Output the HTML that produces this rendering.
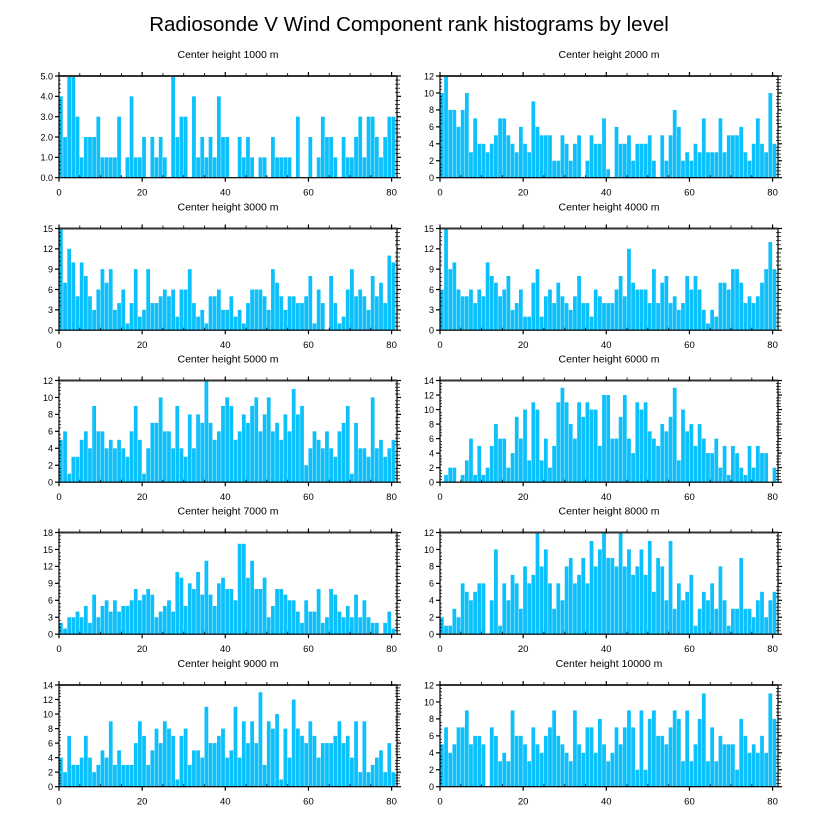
<!DOCTYPE html>
<html><head><meta charset="utf-8"><style>
html,body{margin:0;padding:0;background:#fff;}
svg{display:block;font-family:"Liberation Sans",Arial,sans-serif;}
</style></head><body>
<svg id="chart" width="818" height="824" viewBox="0 0 818 824">
<text x="409" y="31" text-anchor="middle" font-size="20.5" fill="#000">Radiosonde V Wind Component rank histograms by level</text>
</svg>
<script>
const levels = [1000,2000,3000,4000,5000,6000,7000,8000,9000,10000];
const yMaxes = [5,12,15,15,12,14,18,12,14,12];
const yStepVals = [1,2,3,3,2,2,3,2,2,2];
const xTickVals = [0,20,40,60,80];
const c1000 = [4,2,5,5,3,1,2,2,2,3,1,1,1,1,3,0,1,4,1,1,2,0,2,1,2,1,0,5,2,3,3,0,4,1,2,1,2,1,4,2,2,0,0,2,1,2,1,0,1,1,0,2,1,1,1,1,0,3,0,0,2,0,1,3,2,2,1,0,2,1,1,2,3,1,3,3,2,1,2,3,3];
const c2000 = [10,12,8,8,6,8,10,3,7,4,4,3,4,5,7,7,5,4,3,6,4,3,9,6,5,5,5,2,2,5,4,2,4,5,0,2,5,4,4,7,1,0,6,4,4,5,2,4,4,4,5,2,0,5,2,5,8,6,2,3,2,4,3,7,3,3,3,7,3,5,5,5,6,3,2,4,7,4,3,10,4];
const c3000 = [15,7,12,10,5,10,8,5,3,6,9,7,9,3,4,6,1,4,9,2,3,9,4,4,5,6,5,6,2,6,6,9,4,2,3,1,5,5,6,3,3,5,2,3,1,4,6,6,6,5,3,9,7,5,3,5,5,4,4,5,8,1,6,4,0,8,4,1,2,6,9,5,6,5,3,8,5,7,4,11,10];
const c4000 = [6,15,9,10,6,5,5,6,4,6,5,10,8,7,5,6,8,3,4,6,2,2,7,9,2,5,6,4,7,5,4,3,5,8,4,4,2,6,5,4,4,4,6,8,5,12,7,6,6,6,4,9,4,7,8,4,5,3,4,8,6,8,6,3,1,3,2,7,7,6,9,9,7,4,5,4,5,7,9,13,9];
const c5000 = [5,6,1,3,3,5,6,4,9,6,6,4,5,4,5,4,3,6,9,5,1,4,7,7,10,6,6,4,9,4,3,8,4,8,7,12,7,5,6,9,10,9,5,6,8,7,9,10,6,8,10,6,7,5,8,6,11,8,9,2,4,6,5,4,6,4,3,6,7,9,1,7,4,4,3,10,4,5,3,4,5];
const c6000 = [0,1,2,2,0,1,3,6,1,5,1,2,5,8,6,6,2,4,9,6,10,3,11,10,3,6,2,5,11,13,11,8,6,11,9,11,10,10,5,12,12,6,6,9,12,6,4,11,10,11,7,6,5,8,7,9,13,3,10,7,8,5,8,6,4,4,6,2,5,1,5,4,2,1,5,2,5,4,4,0,2];
const c7000 = [2,1,3,3,4,3,5,2,7,3,5,6,4,6,4,5,5,6,8,6,7,8,7,3,4,5,6,4,11,10,5,9,8,11,7,13,7,5,9,10,8,8,6,16,16,10,13,8,8,10,3,5,8,8,7,6,6,4,2,6,4,4,8,2,3,8,7,4,3,5,3,7,3,6,3,2,2,0,2,4,1];
const c8000 = [2,1,1,3,2,6,5,4,5,6,6,0,4,10,1,6,4,7,6,3,8,6,7,12,8,10,6,3,6,4,8,9,6,7,9,6,11,8,10,12,9,9,8,12,8,10,7,8,10,7,11,5,9,8,4,11,3,6,4,5,7,1,3,5,4,6,3,8,4,1,3,3,9,3,3,2,4,5,2,4,5];
const c9000 = [4,2,7,3,3,4,7,4,2,3,5,4,9,3,5,3,3,3,6,9,7,3,5,8,6,9,8,7,1,7,8,3,5,5,4,11,6,6,7,8,4,5,11,4,9,6,9,6,13,3,9,8,10,1,8,4,12,8,7,6,9,7,4,6,6,6,7,9,6,7,4,9,2,9,2,3,4,5,2,6,2];
const c10000 = [5,7,4,5,7,7,9,5,6,6,5,0,7,6,3,4,3,9,6,6,5,3,7,5,4,6,7,9,6,5,4,3,9,5,4,7,7,4,8,5,3,4,7,5,7,9,7,2,9,2,8,9,6,6,5,7,9,8,3,9,3,5,8,11,3,7,3,6,5,5,5,2,8,6,4,5,4,6,4,11,8];
const countsList = [c1000,c2000,c3000,c4000,c5000,c6000,c7000,c8000,c9000,c10000];

const NS = "http://www.w3.org/2000/svg";
const svg = document.getElementById('chart');
const XMAX = 81.3, PW = 338, PH = 101.7;
const colX = [59, 440];
const rowY = [76, 228.5, 380.5, 532.5, 685];
function mk(tag, attrs, parent){ const e=document.createElementNS(NS,tag); for(const k in attrs) e.setAttribute(k,attrs[k]); (parent||svg).appendChild(e); return e; }

countsList.forEach((counts, p) => {
  const x0 = colX[p%2], y0 = rowY[Math.floor(p/2)];
  const yMax = yMaxes[p], yStep = yStepVals[p];
  const sx = v => x0 + v / XMAX * PW;
  const sy = v => y0 + PH - v / yMax * PH;
  const g = mk('g', {});
  
  
  const t = mk('text', {x: x0 + PW/2, y: y0 - 18, 'text-anchor':'middle', 'font-size':'10.5'}, g);
  t.textContent = 'Center height ' + levels[p] + ' m';
  
  
  counts.forEach((c, i) => {
    if (c <= 0) return;
    const r = mk('rect', {x: sx(i), y: sy(c), width: Math.max(0.5, sx(i+1)-sx(i)-0.4), height: sy(0)-sy(c), fill:'#0cc0fc'}, g);
    
    
  });
  const f = mk('rect', {x:x0, y:y0, width:PW, height:PH, fill:'none', stroke:'#000', 'stroke-width':'1.2'}, g);
  
  
  mk('line', {x1:x0, x2:x0+PW, y1:y0, y2:y0, stroke:'#333', 'stroke-width':'2'}, g);
  for (let v = 0; v <= 80; v += 5) {
    const major = v % 20 === 0;
    const x = sx(v);
    mk('line', {x1:x, x2:x, y1:y0+PH-(major?0:2.5), y2:y0+PH+(major?4:0), stroke:'#000', 'stroke-width': major?1.2:0.8}, g);
    mk('line', {x1:x, x2:x, y1:y0-(major?4:3), y2:y0+(major?1:0), stroke:'#000', 'stroke-width': major?1.2:0.8}, g);
  }
  xTickVals.forEach(v => {
    const tl = mk('text', {x: sx(v), y: y0+PH+18, 'text-anchor':'middle', 'font-size':'9.5'}, g);
    tl.textContent = v;
    
    
  });
  const minor = yStep / 5;
  for (let k = 0; k <= Math.round(yMax/minor); k++) {
    const v = k * minor, y = sy(v);
    const major = k % 5 === 0;
    mk('line', {x1:x0-(major?4:0), x2:x0+(major?0:2), y1:y, y2:y, stroke:'#000', 'stroke-width': major?1.2:0.7}, g);
    mk('line', {x1:x0+PW-(major?0:2), x2:x0+PW+(major?4:3), y1:y, y2:y, stroke:'#000', 'stroke-width': major?1.2:0.7}, g);
  }
  for (let v = 0; v <= yMax + 1e-9; v += yStep) {
    const yl = mk('text', {x: x0-6, y: sy(v)+3.3, 'text-anchor':'end', 'font-size':'9'}, g);
    yl.textContent = p === 0 ? v.toFixed(1) : String(v);
    
    
  }
});
</script>
</body></html>
